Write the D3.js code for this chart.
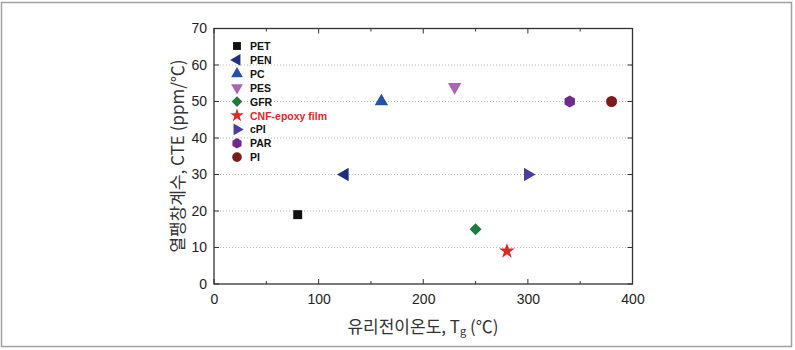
<!DOCTYPE html>
<html><head><meta charset="utf-8">
<script src="https://cdn.jsdelivr.net/npm/d3@7"></script>
<style>body{margin:0;background:#fff}svg{display:block}</style>
</head><body>
<svg id="c" width="795" height="350"></svg>
<script>
const names = ["PET","PEN","PC","PES","GFR","CNF-epoxy film","cPI","PAR","PI"];
const tg = [80,125,160,230,250,280,300,340,380];
const cte = [19,30,50,54,15,9,30,50,50];
const colors = ["#111111","#1f2f80","#2453a6","#a865b0","#1f7a3e","#d92a26","#4d3d9e","#6e2a8c","#7a1c1e"];
const shapes = ["square","left","up","down","diamond","star","right","hexagon","circle"];
const xTicks = [0,100,200,300,400];
const yTicks = [0,10,20,30,40,50,60,70];

const svg = d3.select("#c");
svg.append("rect").attr("x",1.5).attr("y",2.5).attr("width",790).attr("height",344)
  .attr("fill","none").attr("stroke","#a0a0a0").attr("stroke-width",1.5);

const L=214,R=632.5,T=28.5,B=284;
const x = d3.scaleLinear().domain([0,400]).range([L,R]);
const y = d3.scaleLinear().domain([0,70]).range([B,T]);
const font = "Liberation Sans, Arial, sans-serif";

// grid
svg.append("g").selectAll("line").data(yTicks.filter(t=>t>0&&t<70)).join("line")
  .attr("x1",L).attr("x2",R).attr("y1",d=>y(d)).attr("y2",d=>y(d))
  .attr("stroke","#b8b8b8").attr("stroke-width",1).attr("stroke-dasharray","1,2");

// axes
const ax = d3.axisBottom(x).tickValues(xTicks).tickSize(0).tickPadding(10);
const gx = svg.append("g").attr("transform",`translate(0,${B})`).call(ax);
gx.select(".domain").remove();
gx.selectAll("text").attr("font-family",font).attr("font-size",14).attr("fill","#222");
const ay = d3.axisLeft(y).tickValues(yTicks).tickSize(0).tickPadding(7);
const gy = svg.append("g").attr("transform",`translate(${L},0)`).call(ay);
gy.select(".domain").remove();
gy.selectAll("text").attr("font-family",font).attr("font-size",14).attr("fill","#222");

// inward ticks
const tk = svg.append("g").attr("stroke","#333").attr("stroke-width",1);
const xMinor = d3.range(0,401,50);
xMinor.forEach(v=>{
  const len = v%100===0?5:3;
  tk.append("line").attr("x1",x(v)).attr("x2",x(v)).attr("y1",B).attr("y2",B-len);
  tk.append("line").attr("x1",x(v)).attr("x2",x(v)).attr("y1",T).attr("y2",T+len);
});
yTicks.forEach(v=>{
  tk.append("line").attr("x1",L).attr("x2",L+5).attr("y1",y(v)).attr("y2",y(v));
  tk.append("line").attr("x1",R).attr("x2",R-5).attr("y1",y(v)).attr("y2",y(v));
});
svg.append("rect").attr("x",L).attr("y",T).attr("width",R-L).attr("height",B-T)
  .attr("fill","none").attr("stroke","#333").attr("stroke-width",1.3);

// k = scale factor (1 for plot, smaller for legend)
function sym(s, k){
  switch(s){
    case "square": return d3.symbol(d3.symbolSquare, 80*k*k)();
    case "diamond": return d3.symbol(d3.symbolDiamond2 || d3.symbolDiamond, 92*k*k)();
    case "star": return d3.symbol(d3.symbolStar, 75*k*k)();
    case "circle": return d3.symbol(d3.symbolCircle, 95*k*k)();
    case "hexagon": {
      const r=6*k; let p="";
      for(let i=0;i<6;i++){const a=Math.PI/3*i+Math.PI/6; p+=(i?"L":"M")+(r*Math.cos(a)).toFixed(2)+","+(r*Math.sin(a)).toFixed(2);}
      return p+"Z";
    }
    default: return d3.symbol(d3.symbolTriangle, 78*k*k)();
  }
}
const rot = {up:0,down:180,left:-90,right:90};

const pts = tg.map((t,i)=>({t,c:cte[i],i}));
svg.append("g").selectAll("path").data(pts).join("path")
  .attr("d",d=>sym(shapes[d.i],1))
  .attr("transform",d=>`translate(${x(d.t)},${y(d.c)}) rotate(${rot[shapes[d.i]]||0})`)
  .attr("fill",d=>colors[d.i]);

// legend
const lg = svg.append("g");
names.forEach((n,i)=>{
  const yy = 46 + i*13.9;
  lg.append("path").attr("d",sym(shapes[i],0.88))
    .attr("transform",`translate(237,${yy}) rotate(${rot[shapes[i]]||0})`).attr("fill",colors[i]);
  lg.append("text").attr("x",250).attr("y",yy+4).text(n)
    .attr("font-family",font).attr("font-size",10.5).attr("font-weight","bold")
    .attr("fill", i===5?"#d92a26":"#111");
});

// axis titles
const kfont = "Noto Sans CJK KR, Liberation Sans, sans-serif";
svg.append("text").attr("transform","translate(184,156) rotate(-90)").attr("text-anchor","middle")
  .attr("font-family",kfont).attr("font-size",17).attr("fill","#333")
  .text("열팽창계수, CTE (ppm/℃)");
const xt = svg.append("text").attr("x",423).attr("y",333).attr("text-anchor","middle")
  .attr("font-family",kfont).attr("font-size",17).attr("fill","#333");
xt.append("tspan").text("유리전이온도, T");
xt.append("tspan").attr("font-size",11).attr("dy",2).text("g");
xt.append("tspan").attr("dy",-2).text(" (℃)");
</script>
</body></html>
